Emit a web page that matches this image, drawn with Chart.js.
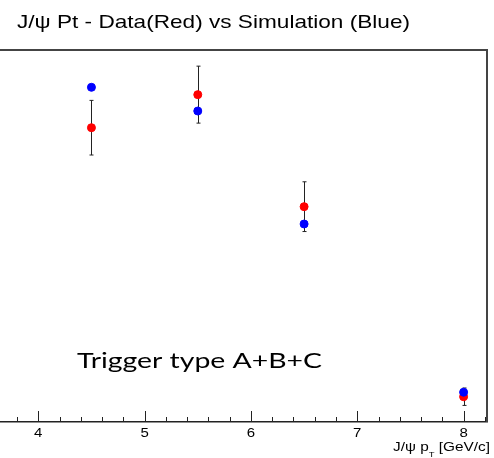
<!DOCTYPE html>
<html>
<head>
<meta charset="utf-8">
<script src="https://cdn.jsdelivr.net/npm/chart.js@4.4.1/dist/chart.umd.min.js"></script>
<style>
  html, body { margin: 0; padding: 0; background: #fff; }
  #wrap { width: 494px; height: 458px; position: relative; }
</style>
</head>
<body>
<div id="wrap"><canvas id="ptChart"></canvas></div>
<script>
// J/psi pT bins (GeV/c)
var ptBins = [4.5, 5.5, 6.5, 8];
var dataValues = [0.2769, 0.3080, 0.2026, 0.0238];
var dataErrors = [0.0257, 0.0268, 0.0234, 0.0082];
var simValues = [0.3149, 0.2926, 0.1863, 0.0280];

var xMajorTicks = [4, 5, 6, 7, 8];
var xMinorTicks = [3.8, 4.2, 4.4, 4.6, 4.8, 5.2, 5.4, 5.6, 5.8, 6.2, 6.4, 6.6, 6.8, 7.2, 7.4, 7.6, 7.8, 8.2];
var xTickLabels = ['4', '5', '6', '7', '8'];

var chartTitle = 'J/\u03c8 Pt - Data(Red) vs Simulation (Blue)';
var noteText = 'Trigger type A+B+C';

var SANS = '"Liberation Sans", Arial, sans-serif';
var NOTE_FONT = '21px Lato, "Open Sans", sans-serif';
var STRETCH = 1.25; // the original picture is a bit wider than tall

var ctx = document.getElementById('ptChart').getContext('2d');

// draws text stretched horizontally by sx
function wideText(c, txt, x, y, font, sx, align) {
    c.save();
    c.font = font;
    var w = c.measureText(txt).width * sx;
    var x0 = x;
    if (align === 'center') x0 = x - w / 2;
    if (align === 'right') x0 = x - w;
    c.translate(x0, y);
    c.scale(sx, 1);
    c.textAlign = 'left';
    c.fillText(txt, 0, 0);
    c.restore();
    return w;
}

// frame, inward ticks, error bars (under the markers) and texts, ROOT style
var rootStyle = {
    id: 'rootStyle',
    beforeDatasetsDraw: function (chart) {
        var c = chart.ctx;
        var a = chart.chartArea;
        var xs = chart.scales.x, ys = chart.scales.y;
        c.save();
        // frame: top and right
        c.strokeStyle = '#444';
        c.lineWidth = 2;
        c.beginPath();
        c.moveTo(a.left, a.top);
        c.lineTo(a.right, a.top);
        c.lineTo(a.right, a.bottom);
        c.stroke();
        // inward ticks on x axis
        c.strokeStyle = '#222';
        c.lineWidth = 1;
        c.beginPath();
        xMajorTicks.forEach(function (v) {
            var px = Math.round(xs.getPixelForValue(v)) + 0.5;
            c.moveTo(px, a.bottom); c.lineTo(px, a.bottom - 11);
        });
        xMinorTicks.forEach(function (v) {
            var px = Math.round(xs.getPixelForValue(v)) + 0.5;
            c.moveTo(px, a.bottom); c.lineTo(px, a.bottom - 5);
        });
        c.stroke();
        // error bars of the data
        c.beginPath();
        for (var i = 0; i < ptBins.length; i++) {
            var px = Math.round(xs.getPixelForValue(ptBins[i])) + 0.5;
            var top = ys.getPixelForValue(dataValues[i] + dataErrors[i]);
            var bot = ys.getPixelForValue(dataValues[i] - dataErrors[i]);
            c.moveTo(px, top); c.lineTo(px, bot);
            c.moveTo(px - 2, top); c.lineTo(px + 2, top);
            c.moveTo(px - 2, bot); c.lineTo(px + 2, bot);
        }
        c.stroke();
        c.restore();
    },
    afterDraw: function (chart) {
        var c = chart.ctx;
        var xs = chart.scales.x;
        c.save();
        c.fillStyle = '#000';
        c.textBaseline = 'alphabetic';

        // title, fitted to its width in the original
        c.font = '19px ' + SANS;
        var tw = c.measureText(chartTitle).width;
        wideText(c, chartTitle, 17, 28, '19px ' + SANS, 393 / tw, 'left');

        // note
        c.font = NOTE_FONT;
        var nw = c.measureText(noteText).width;
        wideText(c, noteText, 77, 368, NOTE_FONT, 245 / nw, 'left');

        // tick labels
        xMajorTicks.forEach(function (v, k) {
            wideText(c, xTickLabels[k], xs.getPixelForValue(v), 437, '12px ' + SANS, STRETCH, 'center');
        });

        // axis title with subscript T, right aligned
        var f1 = '13px ' + SANS, f2 = '8px ' + SANS;
        var p1 = 'J/\u03c8 p', p2 = 'T', p3 = ' [GeV/c]';
        c.font = f1;
        var w1 = c.measureText(p1).width, w3 = c.measureText(p3).width;
        c.font = f2;
        var w2 = c.measureText(p2).width;
        var sx = 97 / (w1 + w2 + w3);
        var x0 = 490 - (w1 + w2 + w3) * sx;
        wideText(c, p1, x0, 451, f1, sx, 'left');
        wideText(c, p2, x0 + w1 * sx, 457, f2, sx, 'left');
        wideText(c, p3, x0 + (w1 + w2) * sx, 451, f1, sx, 'left');
        c.restore();
    }
};

// Chart.js paints the first dataset last, so Simulation (blue) ends up on top
var ptChart = new Chart(ctx, {
    type: 'scatter',
    data: {
        datasets: [{
            label: 'Simulation',
            data: ptBins.map(function (x, i) { return { x: x, y: simValues[i] }; }),
            backgroundColor: '#0000ff',
            borderColor: '#0000ff',
            pointRadius: 4,
            pointHoverRadius: 4
        }, {
            label: 'Data',
            data: ptBins.map(function (x, i) { return { x: x, y: dataValues[i] }; }),
            backgroundColor: '#ff0000',
            borderColor: '#ff0000',
            pointRadius: 4,
            pointHoverRadius: 4
        }]
    },
    options: {
        responsive: true,
        maintainAspectRatio: false,
        animation: false,
        layout: {
            autoPadding: false,
            padding: { left: 0, right: 7, top: 50, bottom: 0 }
        },
        plugins: {
            legend: { display: false },
            title: { display: false },
            tooltip: { enabled: false }
        },
        scales: {
            x: {
                type: 'linear',
                min: 3.64,
                max: 8.22,
                afterBuildTicks: function (scale) {
                    scale.ticks = xMajorTicks.map(function (v) { return { value: v }; });
                },
                afterFit: function (scale) { scale.height = 36; },
                border: { display: true, color: '#222', width: 1.5 },
                grid: { display: false, drawTicks: false },
                ticks: { display: false }
            },
            y: {
                display: false,
                min: 0,
                max: 0.35
            }
        }
    },
    plugins: [rootStyle]
});
</script>
</body>
</html>
